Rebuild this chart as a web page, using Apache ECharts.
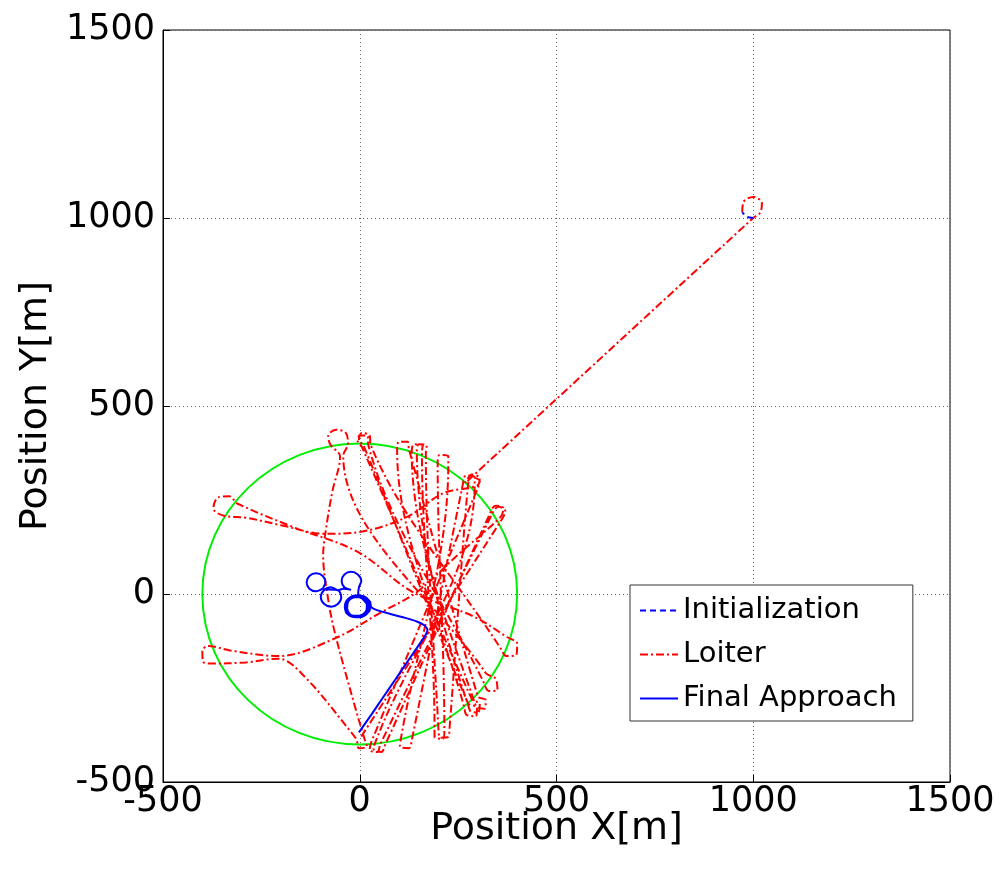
<!DOCTYPE html>
<html>
<head>
<meta charset="utf-8">
<script src="https://cdn.jsdelivr.net/npm/echarts@6/dist/echarts.min.js"></script>
<style>
html,body{margin:0;padding:0;background:#fff;}
#chart{width:1001px;height:875px;}
</style>
</head>
<body>
<div id="chart"></div>
<script>
// ---- data (metres) ----
var xTicks = [-500, 0, 500, 1000, 1500];
var yTicks = [-500, 0, 500, 1000, 1500];

var initPath = [[1000,1000],[985,1003],[972,1015]];

var loiterPath = [
  [972,1015],[975,1042],[1000,1056],[1022,1040],[1018,1015],[1000,1000],
  [268,295],[285,318],[305,308],[298,288],
  [212,268],[120,205],[0,165],[-88,160],[-200,183],[-290,203],
  [-345,208],[-372,228],[-360,257],[-332,260],[-310,240],
  [-164,176],[-5,112],[135,5],[290,-60],
  [375,-115],[400,-132],[398,-162],[372,-165],[360,-148],
  [28,396],[25,422],[5,428],[-2,410],[10,394],
  [275,-290],[298,-302],[295,-325],[272,-322],[265,-300],
  [95,383],[100,405],[122,405],[125,385],
  [300,-272],[320,-282],[318,-305],[295,-298],
  [132,378],[138,398],[160,396],[158,375],
  [190,-355],[190,-380],[212,-385],[215,-362],
  [198,350],[203,370],[225,367],[225,345],
  [105,-382],[102,-405],[125,-410],[132,-390],
  [262,292],[270,315],[292,310],[292,290],
  [42,-388],[35,-412],[55,-420],[65,-400],
  [330,212],[345,235],[365,228],[358,205],
  [250,105],[145,5],[52,-50],[-63,-118],[-207,-165],[-330,-150],
  [-385,-138],[-400,-152],[-398,-180],[-380,-185],
  [-290,-182],[-207,-172],[-139,-221],[-20,-370],
  [-8,-388],[-2,-410],[18,-405],[12,-385],
  [-12,-300],[-63,-104],[-80,-16],[-93,104],[-88,157],[-70,271],[-50,365],
  [-75,398],[-80,420],[-60,437],[-35,428],[-30,400],[-42,368],
  [320,-210],[345,-225],[350,-255],[328,-258],[315,-235],
  [22,395],[20,420],[0,422],[-5,405],[5,392],
  [285,-280],[305,-292],[300,-315],[280,-310],
  [145,378],[150,398],[170,395],[168,375],
  [200,-360],[205,-382],[225,-380],[228,-360],
  [275,290],[285,310],[305,300],[300,282],
  [30,-392],[25,-415],[45,-420],[52,-400],
  [335,210],[352,232],[370,220],[362,200],
  [0,-385]
];

var finalApproach = [
  [-2,-368],[30,-320],[60,-274],[90,-228],[120,-182],[150,-136],[168,-108],[172,-96],[162,-82],[145,-73],[110,-62],[60,-48],[30,-36],
  [26,-20],[10,-6],[-10,-4],[-30,-14],[-38,-34],[-30,-54],[-10,-62],[12,-56],[26,-40],
  [20,-16],[2,-8],[-20,-10],[-36,-26],[-36,-46],[-20,-60],[2,-62],[20,-50],[24,-30],
  [14,-12],[-6,-6],[-26,-14],[-34,-34],[-26,-54],[-6,-60],[14,-52],[22,-34],
  [12,-14],[-10,-8],[-28,-18],[-32,-38],[-22,-56],[-2,-58],[16,-46],[18,-28],
  [8,-14],[-4,-2],[-2,18],[4,35],[-5,52],[-22,59],[-39,52],[-46,35],[-39,18],[-22,11],
  [-42,14],[-55,10],[-73,18],[-91,10],[-99,-8],[-91,-26],[-73,-34],[-55,-26],[-47,-8],[-55,10],
  [-94,14],[-87,31],[-94,48],[-111,55],[-128,48],[-135,31],[-128,14],[-111,7],[-94,14]
];

var holdCircle = {center:[0,0], radius:400};

var FONT = '"DejaVu Sans", sans-serif';
function tickFmt(v){ return String(v); }

var chart = echarts.init(document.getElementById('chart'), null, {renderer:'canvas'});
var option = {
  animation:false,
  backgroundColor:'#fff',
  grid:{left:163,right:51,top:30,bottom:93,show:true,borderColor:'#000',borderWidth:1,
        backgroundColor:'transparent',containLabel:false,outerBoundsMode:'none'},
  xAxis:{
    type:'value',min:xTicks[0],max:xTicks[xTicks.length-1],interval:500,
    name:'Position X[m]',nameLocation:'middle',nameGap:28,nameMoveOverlap:false,
    nameTextStyle:{fontFamily:FONT,fontSize:38,color:'#000'},
    axisLine:{onZero:false,lineStyle:{color:'#000',width:1}},
    axisTick:{inside:true,length:7,lineStyle:{color:'#000'}},
    axisLabel:{fontFamily:FONT,fontSize:35,color:'#000',margin:2,formatter:tickFmt},
    splitLine:{show:true,lineStyle:{type:[1,3],color:'#666',width:1}}
  },
  yAxis:{
    type:'value',min:yTicks[0],max:yTicks[yTicks.length-1],interval:500,
    name:'Position Y[m]',nameLocation:'middle',nameGap:108,nameRotate:90,nameMoveOverlap:false,
    nameTextStyle:{fontFamily:FONT,fontSize:38,color:'#000'},
    axisLine:{onZero:false,lineStyle:{color:'#000',width:1}},
    axisTick:{inside:true,length:7,lineStyle:{color:'#000'}},
    axisLabel:{fontFamily:FONT,fontSize:35,color:'#000',margin:8,formatter:tickFmt},
    splitLine:{show:true,lineStyle:{type:[1,3],color:'#666',width:1}}
  },
  legend:{
    orient:'vertical',left:630,top:585,
    data:['Initialization','Loiter','Final Approach'],
    backgroundColor:'#fff',borderColor:'#333',borderWidth:1,
    padding:[11,16,8,9],itemGap:15,itemWidth:38,itemHeight:14,
    itemStyle:{opacity:0},
    textStyle:{fontFamily:FONT,fontSize:29,color:'#000'}
  },
  series:[
    {
      type:'custom',name:'hold',silent:true,z:1,
      data:[[holdCircle.center[0],holdCircle.center[1],holdCircle.radius]],
      renderItem:function(params,api){
        var c = api.coord([api.value(0),api.value(1)]);
        var o = api.coord([0,0]);
        var rx = Math.abs(api.coord([api.value(2),0])[0]-o[0]);
        var ry = Math.abs(api.coord([0,api.value(2)])[1]-o[1]);
        return {type:'ellipse',shape:{cx:c[0],cy:c[1],rx:rx,ry:ry},
          style:{fill:null,stroke:'#00ee00',lineWidth:2}};
      }
    },
    {
      type:'line',name:'Loiter',data:loiterPath,symbol:'none',smooth:0.35,z:3,
      lineStyle:{color:'#ff0000',width:2,type:[8,3,2,3]},itemStyle:{color:'#ff0000'}
    },
    {
      type:'line',name:'Initialization',data:initPath,symbol:'none',smooth:0.3,z:4,
      lineStyle:{color:'#0000ff',width:2,type:[6,4]},itemStyle:{color:'#0000ff'}
    },
    {
      type:'line',name:'Final Approach',data:finalApproach,symbol:'none',smooth:0.3,z:4,
      lineStyle:{color:'#0000ff',width:2,type:'solid'},itemStyle:{color:'#0000ff'}
    }
  ]
};
chart.setOption(option);
</script>
</body>
</html>
